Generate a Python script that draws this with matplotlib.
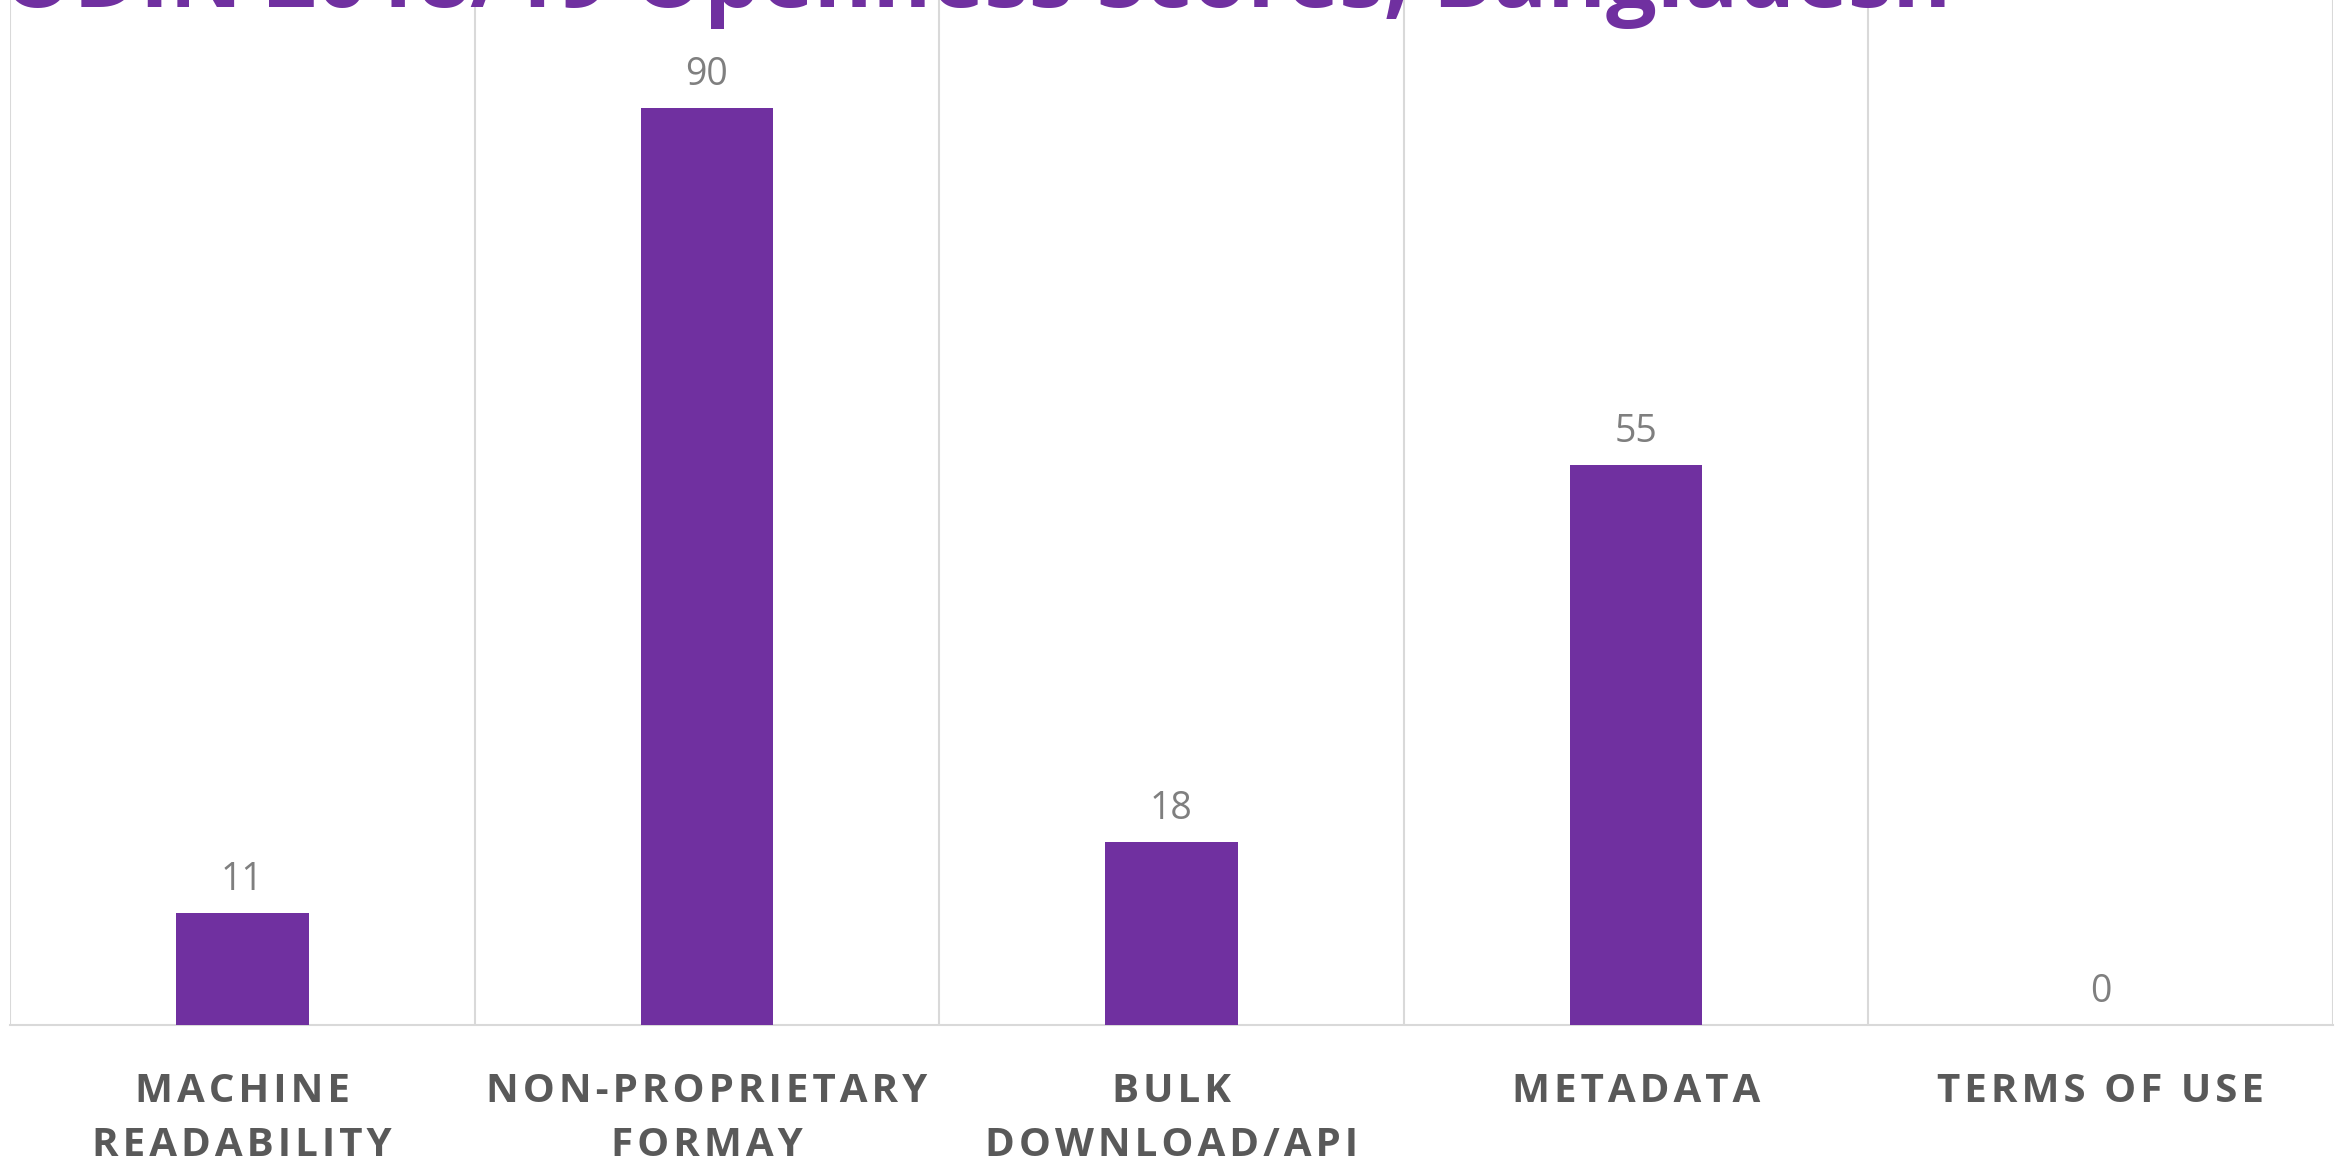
import numpy as np
import matplotlib.pyplot as plt

categories = ["MACHINE\nREADABILITY", "NON-PROPRIETARY\nFORMAY", "BULK\nDOWNLOAD/API",
              "METADATA", "TERMS OF USE"]
scores = [11, 90, 18, 55, 0]
title = "ODIN 2018/19 Openness Scores, Bangladesh"

purple = "#7030A0"
grid_grey = "#D9D9D9"


def spaced(s):
    # open up the tracking a little with hair spaces between letters
    return "\n".join("\u200a".join(line) for line in s.split("\n"))


W, H = 2349, 1168
fig = plt.figure(figsize=(W / 100, H / 100), dpi=100)
ax = fig.add_axes([10 / W, (H - 1025) / H, (2333 - 10) / W, 1025 / H])

x = np.arange(len(categories))
bars = ax.bar(x, scores, width=0.285, color=purple, zorder=3)

ax.set_xlim(-0.5, len(categories) - 0.5)
ax.set_ylim(0, 100.6)

# vertical separators between categories
ax.set_xticks(np.arange(-0.5, len(categories)), minor=True)
ax.grid(True, which="minor", axis="x", color=grid_grey, linewidth=1.5, zorder=0)
ax.tick_params(which="both", length=0)
ax.set_yticks([])
ax.set_xticks(x)
ax.set_xticklabels([spaced(c) for c in categories],
                   fontfamily=["Open Sans", "DejaVu Sans"], fontweight="bold",
                   fontsize=29, color="#595959", linespacing=1.5)
ax.tick_params(axis="x", pad=34)

for side in ["left", "right", "top"]:
    ax.spines[side].set_visible(False)
ax.spines["bottom"].set_color(grid_grey)
ax.spines["bottom"].set_linewidth(1.5)

for b, v in zip(bars, scores):
    ax.annotate(str(v), (b.get_x() + b.get_width() / 2, v), xytext=(0, 10),
                textcoords="offset points", ha="center", va="bottom",
                fontfamily="Open Sans", fontsize=27, color="#7F7F7F")

fig.text(2 / W, 1 - 7 / H, title, ha="left", va="baseline",
         fontfamily="Open Sans", fontweight="bold", fontsize=64.5, color=purple)

fig.savefig("out.png", dpi=100, facecolor="white")
